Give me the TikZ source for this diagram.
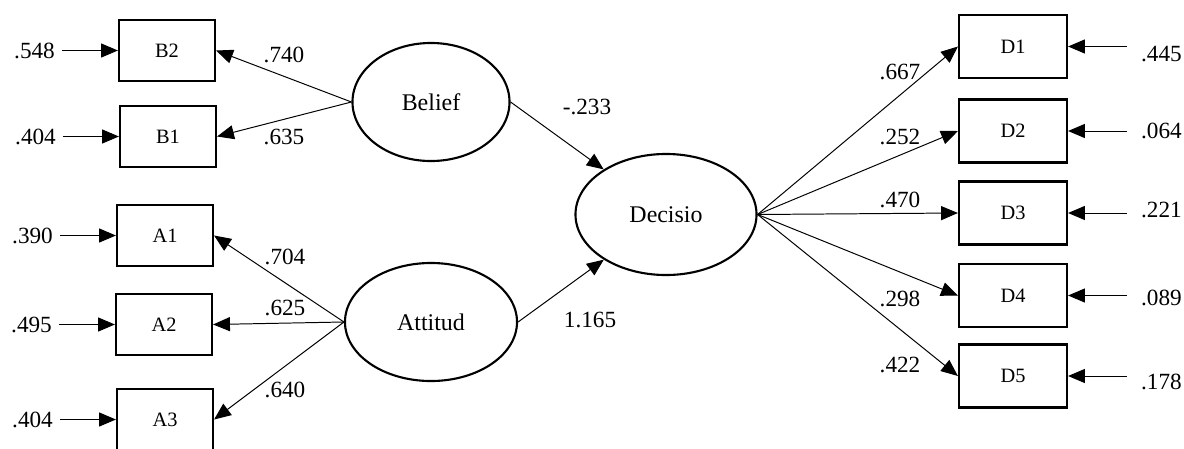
\documentclass[tikz,border=0pt]{standalone}
\usepackage{fontspec}
\setmainfont{Liberation Serif}
\usetikzlibrary{arrows.meta,positioning,shapes.geometric}

\begin{document}
\begin{tikzpicture}[x=0.025cm, y=-0.025cm, node distance=1.5cm,
	obs/.style={draw, line width=1.5pt, minimum width=2.4cm, minimum height=1.525cm, font=\fontsize{14.5}{17}\selectfont},
	obsD/.style={obs, minimum width=2.7cm, minimum height=1.575cm},
	lat/.style={draw, ellipse, line width=1.5pt, minimum height=2.95cm, font=\fontsize{17}{20}\selectfont},
	num/.style={font=\fontsize{16.5}{19}\selectfont, inner sep=2pt},
	link/.style={-{Triangle[length=12pt,width=10pt]}, line width=0.7pt}]
	\useasboundingbox (0,0) rectangle (1184,448);

	% latent variables
	\node [lat, minimum width=3.925cm] (Belief) at (431,102) {Belief};
	\node [lat, minimum width=4.3cm] (Attitud) at (431,322) {Attitud};
	\node [lat, minimum width=4.525cm, minimum height=3.025cm] (Decisio) at (666,214.5) {Decisio};

	% indicators
	\node [obs] (B2) at (167,50.5) {B2};
	\node [obs] (B1) at (168,136.5) {B1};
	\node [obs] (A1) at (165,235.5) {A1};
	\node [obs] (A2) at (164,324.5) {A2};
	\node [obs] (A3) at (165,419.5) {A3};
	\node [obsD] (D1) at (1013,46.5) {D1};
	\node [obsD] (D2) at (1013,131) {D2};
	\node [obsD] (D3) at (1013,213) {D3};
	\node [obsD] (D4) at (1013,295.5) {D4};
	\node [obsD] (D5) at (1013,376) {D5};

	% error terms
	\node [num] (eB2) [left=of B2] {.548};
	\node [num] (eB1) [left=of B1] {.404};
	\node [num] (eA1) [left=of A1] {.390};
	\node [num] (eA2) [left=of A2] {.495};
	\node [num] (eA3) [left=of A3] {.404};
	\node [num, yshift=-5.5pt] (eD1) [right=1.75cm of D1] {.445};
	\node [num] (eD2) [right=1.75cm of D2] {.064};
	\node [num, yshift=2pt] (eD3) [right=1.75cm of D3] {.221};
	\node [num, yshift=-2pt] (eD4) [right=1.75cm of D4] {.089};
	\node [num, yshift=-4pt] (eD5) [right=1.75cm of D5] {.178};

	% loadings
	\node [num] (wB2) at (284,55) {.740};
	\node [num] (wB1) at (284,137) {.635};
	\node [num] (wA1) at (285,257) {.704};
	\node [num] (wA2) at (285,308) {.625};
	\node [num] (wA3) at (285,390) {.640};
	\node [num] (wBD) at (587,107) {-.233};
	\node [num] (wAD) at (590,320) {1.165};
	\node [num] (wD1) at (900,72) {.667};
	\node [num] (wD2) at (900,137) {.252};
	\node [num] (wD3) at (900,200) {.470};
	\node [num] (wD4) at (900,299) {.298};
	\node [num] (wD5) at (900,365) {.422};

	\path[link]
		(Belief.west) edge (B2.east)
		(Belief.west) edge (B1.east)
		(Attitud.west) edge (A1.east)
		(Attitud.west) edge (A2.east)
		(Attitud.west) edge (A3.east)
		(Belief.east) edge (Decisio)
		(Attitud.east) edge (Decisio)
		(Decisio.east) edge (D1.west)
		(Decisio.east) edge (D2.west)
		(Decisio.east) edge (D3.west)
		(Decisio.east) edge (D4.west)
		(Decisio.east) edge (D5.west)
		;

	\path[link, shorten <=3pt]
		(eB2) edge (B2)
		(eB1) edge (B1)
		(eA1) edge (A1)
		(eA2) edge (A2)
		(eA3) edge (A3)
		;
	\path[link, shorten <=8pt]
		(eD1.west |- D1) edge (D1)
		(eD2.west |- D2) edge (D2)
		(eD3.west |- D3) edge (D3)
		(eD4.west |- D4) edge (D4)
		(eD5.west |- D5) edge (D5)
		;

\end{tikzpicture}
\end{document}
